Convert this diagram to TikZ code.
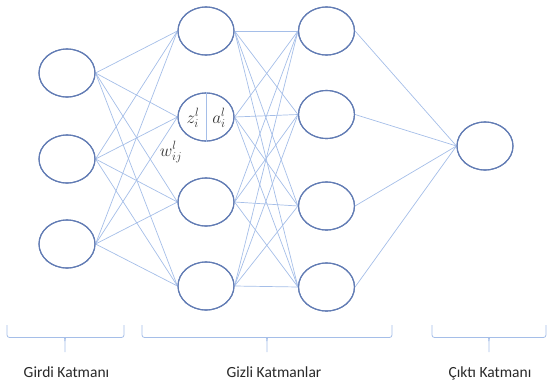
\documentclass[tikz,border=0pt]{standalone}
\usepackage{fontspec}
\setmainfont{Carlito}
\usetikzlibrary{shapes.geometric}
\definecolor{neuron}{RGB}{98,124,180}
\definecolor{wire}{RGB}{165,190,232}
\definecolor{labeltext}{RGB}{40,40,40}
\tikzset{
  neuronnode/.style={ellipse, draw=neuron, line width=1.1pt, fill=white,
    minimum width=56pt, minimum height=48pt, inner sep=0pt},
  wireline/.style={draw=wire, line width=0.7pt},
  bracepath/.style={draw=wire, line width=0.8pt},
  layertext/.style={font=\fontsize{15.5}{18}\selectfont, text=labeltext, anchor=base},
  mathtext/.style={font=\fontsize{18}{20}\selectfont, text=black!80, inner sep=0pt}
}
\begin{document}
\begin{tikzpicture}[x=1pt,y=-1pt]
\useasboundingbox (0,0) rectangle (547,381);

% input layer
\node[neuronnode] (i1) at (67,73) {};
\node[neuronnode] (i2) at (67,159) {};
\node[neuronnode] (i3) at (67,244) {};
% first hidden layer
\node[neuronnode] (a1) at (206,31) {};
\node[neuronnode] (a2) at (206,117) {};
\node[neuronnode] (a3) at (206,202) {};
\node[neuronnode] (a4) at (206,286) {};
% second hidden layer
\node[neuronnode] (b1) at (326.5,31) {};
\node[neuronnode] (b2) at (326.5,114.5) {};
\node[neuronnode] (b3) at (326.5,206) {};
\node[neuronnode] (b4) at (326.5,287) {};
% output layer
\node[neuronnode] (o1) at (485,146) {};

% weighted connections between consecutive layers
\foreach \s in {i1,i2,i3}
  \foreach \t in {a1,a2,a3,a4}
    \path[wireline] (\s.east) -- (\t.west);
\foreach \s in {a1,a2,a3,a4}
  \foreach \t in {b1,b2,b3,b4}
    \path[wireline] (\s.east) -- (\t.west);
\foreach \s in {b1,b2,b3,b4}
  \path[wireline] (\s.east) -- (o1.west);

% redraw neuron outlines on top of the wires
\foreach \n in {i1,i2,i3,a1,a2,a3,a4,b1,b2,b3,b4,o1}
  \draw[neuron, line width=1.1pt] (\n.center) ellipse (28pt and 24pt);

% split neuron showing pre-activation and activation
\draw[wireline, line width=1pt] (a2.north) -- (a2.south);
\node[mathtext] (zlab) at (193,118) {$z_i^l$};
\node[mathtext] (alab) at (219,118) {$a_i^l$};
\node[mathtext] (wlab) at (171,152) {$w_{ij}^l$};

% layer braces
\foreach \xa/\xm/\xb in {7/65/124, 142/267/392, 432/489/546} {
  \path[bracepath, rounded corners=2.5pt] (\xa,325) |- (\xm-3,337.5)
    .. controls (\xm-0.5,337.5) .. (\xm,341) -- (\xm,352);
  \path[bracepath, rounded corners=2.5pt] (\xb,325) |- (\xm+3,337.5)
    .. controls (\xm+0.5,337.5) .. (\xm,341);
}

% layer names
\node[layertext] (gin) at (66.5,377) {Girdi Katmanı};
\node[layertext] (ghid) at (274,377) {Gizli Katmanlar};
\node[layertext] (gout) at (490,377) {Çıktı Katmanı};
\end{tikzpicture}
\end{document}
